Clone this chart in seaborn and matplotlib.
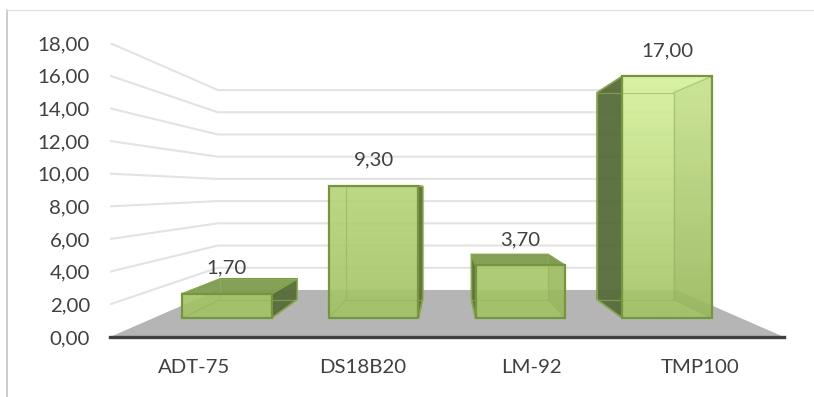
import numpy as np
import pandas as pd
import matplotlib
matplotlib.use("Agg")
import matplotlib.pyplot as plt
from matplotlib.colors import to_rgb
from matplotlib.lines import Line2D
from matplotlib.patches import Polygon
from matplotlib.ticker import FuncFormatter
import seaborn as sns

sensors = ["ADT-75", "DS18B20", "LM-92", "TMP100"]
readings = [1.70, 9.30, 3.70, 17.00]
y_ticks = [0, 2, 4, 6, 8, 10, 12, 14, 16, 18]

# Perspective model: depth scales toward a vanishing point at the middle of the plot box
VANISH_X, VANISH_Y = 1.5, 9.0
FRONT, BACK, WALL = 0.871, 0.745, 0.68

EDGE = "#76963c"
INNER = "#93b459"
SIDE = "#576b3a"
TOP = "#7d9c4e"
BASE_GREEN = "#a2c263"
LIGHT_GREEN = "#d6f19a"
TEXT = "#404040"


def project(x, v, s):
    return VANISH_X + (x - VANISH_X) * s, VANISH_Y + (v - VANISH_Y) * s


def comma(v, _=None):
    return f"{v:.2f}".replace(".", ",")


sns.set_theme(style="white")
plt.rcParams["font.family"] = ["Lato", "DejaVu Sans"]

W, H = 814, 397
fig = plt.figure(figsize=(W / 100, H / 100), dpi=100, facecolor="white")
ax = fig.add_axes([110 / W, 1 - 337 / H, 674 / W, 294 / H])

frame = pd.DataFrame({"sensor": sensors, "reading": readings})
sns.barplot(data=frame, x="sensor", y="reading", width=0.61, ax=ax,
            facecolor="none", edgecolor=EDGE, linewidth=1.6, zorder=6)
ax.set_xlim(-0.5, 3.5)
ax.set_ylim(0, 18)

# Floor
ax.add_patch(Polygon([project(-0.5, 0, 1), project(3.5, 0, 1),
                      project(3.5, 0, WALL), project(-0.5, 0, WALL)],
                     closed=True, fc="#b5b5b5", ec="none", zorder=1))

# Gridlines run along the left wall and then across the back wall
for v in y_ticks[1:]:
    pts = [project(-0.5, v, 1), project(-0.5, v, WALL), project(3.5, v, WALL)]
    ax.plot(*zip(*pts), color="#e3e3e3", lw=1.5, zorder=1.5, solid_capstyle="butt")

for patch, value in zip(ax.patches[:len(readings)], readings):
    xl, xr = patch.get_x(), patch.get_x() + patch.get_width()

    fl0, fr0 = project(xl, 0, FRONT), project(xr, 0, FRONT)
    fl1, fr1 = project(xl, value, FRONT), project(xr, value, FRONT)
    bl0, br0 = project(xl, 0, BACK), project(xr, 0, BACK)
    bl1, br1 = project(xl, value, BACK), project(xr, value, BACK)

    # Faces seen from outside the box
    outer = []
    if fl0[0] > bl0[0]:
        outer.append(([fl0, fl1, bl1, bl0], SIDE))
    if fr0[0] < br0[0]:
        outer.append(([fr0, fr1, br1, br0], SIDE))
    if value < VANISH_Y:
        outer.append(([fl1, fr1, br1, bl1], TOP))
    for pts, colour in outer:
        ax.add_patch(Polygon(pts, closed=True, fc=colour, ec=EDGE, lw=1.2,
                             alpha=0.95, zorder=3, joinstyle="round"))

    # The slightly darker inner wall visible through the glass
    if fr0[0] > br0[0]:
        ax.add_patch(Polygon([fr0, fr1, br1, br0], closed=True, fc="#55702a",
                             ec="none", alpha=0.10, zorder=5))

    # Front glass: vertical gradient that gets lighter with the bar's height
    frac = (value / max(readings)) ** 1.6
    top_rgb = np.array(to_rgb(BASE_GREEN)) * (1 - frac) + np.array(to_rgb(LIGHT_GREEN)) * frac
    base_rgb = np.array(to_rgb(BASE_GREEN))
    ramp = np.linspace(0, 1, 64)[:, None, None]
    img = base_rgb[None, None, :] * (1 - ramp) + top_rgb[None, None, :] * ramp
    rgba = np.concatenate([img, np.full((64, 1, 1), 0.9)], axis=2)
    im = ax.imshow(rgba, origin="lower", aspect="auto", zorder=4,
                   extent=(fl0[0], fr0[0], fl0[1], fl1[1]), interpolation="bilinear")

    # Move the seaborn bar onto the front plane of the box
    patch.set_x(fl0[0])
    patch.set_width(fr0[0] - fl0[0])
    patch.set_y(fl0[1])
    patch.set_height(fl1[1] - fl0[1])
    im.set_clip_path(patch)

    # Hidden edges showing through the glass
    for seg in ([bl0, bl1], [br0, br1], [bl1, br1], [bl0, br0],
                [fl0, bl0], [fr0, br0], [fl1, bl1], [fr1, br1]):
        ax.plot(*zip(*seg), color=INNER, lw=0.9, alpha=0.6, zorder=5,
                solid_capstyle="butt")

    ax.annotate(comma(value), xy=((fl1[0] + fr1[0]) / 2, fl1[1]), xytext=(0, 18.4),
                textcoords="offset points", ha="center", va="center",
                fontsize=14.7, color=TEXT, zorder=8)

ax.set_xlim(-0.5, 3.5)
ax.set_ylim(0, 18)
ax.set_xlabel("")
ax.set_ylabel("")
ax.set_yticks(y_ticks)
ax.yaxis.set_major_formatter(FuncFormatter(comma))
ax.tick_params(axis="both", length=0, labelsize=14.7, labelcolor=TEXT)
ax.tick_params(axis="y", pad=14.5)
ax.tick_params(axis="x", pad=15.5)
ax.patch.set_alpha(0)
for side in ("top", "left", "right"):
    ax.spines[side].set_visible(False)
ax.spines["bottom"].set_color("#404040")
ax.spines["bottom"].set_linewidth(2.4)
ax.spines["bottom"].set_zorder(7)

# Chart-area border along the top and left
fig.add_artist(Line2D([7 / W, 7 / W], [0, 1 - 10 / H], color="#c8c8c8", lw=1.3))
fig.add_artist(Line2D([7 / W, 813 / W], [1 - 10 / H, 1 - 10 / H], color="#e2e2e2", lw=1.0))

fig.savefig("out.png", dpi=100, facecolor="white")
